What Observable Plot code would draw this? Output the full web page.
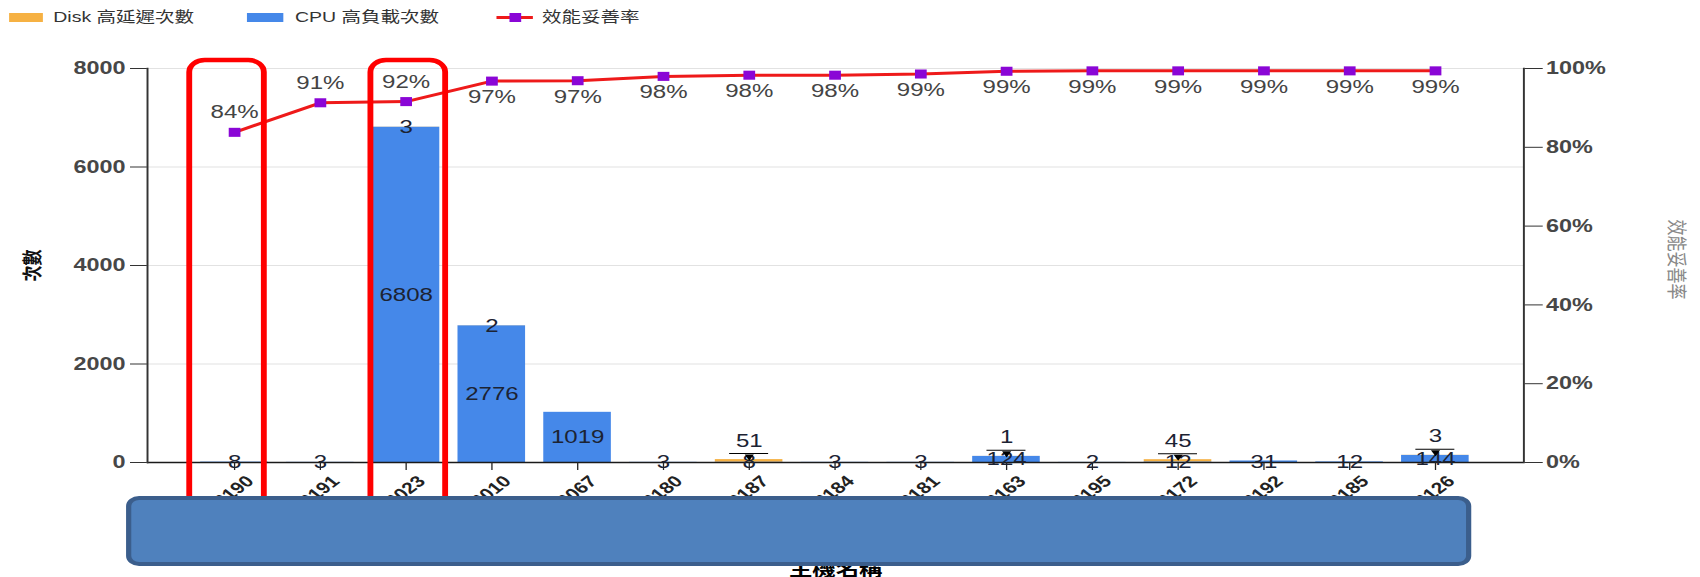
<!DOCTYPE html>
<html>
<head>
<meta charset="utf-8">
<script src="https://cdn.jsdelivr.net/npm/d3@7"></script>
<script src="https://cdn.jsdelivr.net/npm/@observablehq/plot@0.6"></script>
<style>
  html, body { margin: 0; padding: 0; background: #fff; }
  body { width: 1700px; height: 577px; overflow: hidden; }
  #wrap {
    position: relative; width: 1308px; height: 577px;
    transform: scaleX(1.29969); transform-origin: 0 0;
    font-family: "Liberation Sans", Arial, "Noto Sans CJK TC", sans-serif;
  }
  #legend { position: absolute; left: 0; top: 0; height: 32px; width: 100%; }
  .lg-sw { position: absolute; top: 13px; height: 9px; }
  .lg-tx { position: absolute; top: 8px; font-size: 15px; line-height: 18px; color: #333; white-space: nowrap; }
  .lg-line { position: absolute; top: 16px; height: 3px; }
  .lg-mark { position: absolute; top: 13px; width: 9px; height: 9px; }
  #chart { position: absolute; left: 0; top: 32px; }
  #cover {
    position: absolute; left: 97px; top: 496px; width: 1035px; height: 70px;
    box-sizing: border-box; background: #4f81bd; border: 4px solid #3b5e8c; border-radius: 10px;
  }
</style>
</head>
<body>
<div id="wrap">
  <div id="legend"></div>
  <div id="chart"></div>
  <div id="cover"></div>
</div>
<script>
// ---- data ----
const hosts = ["0190","0191","0023","0010","0067","0180","0187","0184","0181","0163","0195","0172","0192","0185","0126"];
const cpuCounts  = [8, 3, 6808, 2776, 1019, 3, 8, 3, 3, 124, 2, 12, 31, 12, 144];
const diskCounts = [0, 0, 3, 2, 0, 0, 51, 0, 0, 1, 0, 45, 0, 0, 3];
const rates = [83.8, 91.3, 91.6, 96.8, 96.9, 98.0, 98.3, 98.3, 98.6, 99.3, 99.4, 99.4, 99.4, 99.4, 99.4];
const countTicks = [0, 2000, 4000, 6000, 8000];
const rateTicks = [0, 20, 40, 60, 80, 100];
const seriesNames = ["Disk 高延遲次數", "CPU 高負載次數", "效能妥善率"];
const yTitle = "次數";
const y2Title = "效能妥善率";
const xTitle = "主機名稱";
const highlighted = ["0190", "0023"];

const colors = { disk: "#f6b143", cpu: "#4588e9", line: "#ee1a1a", marker: "#8a06d6" };
const FONT = '"Liberation Sans", Arial, "Noto Sans CJK TC", sans-serif';

// ---- legend ----
const legend = document.getElementById("legend");
legend.innerHTML = `
  <div class="lg-sw" style="left:7px;width:26px;background:${colors.disk}"></div>
  <div class="lg-tx" style="left:41px">${seriesNames[0]}</div>
  <div class="lg-sw" style="left:190px;width:28px;background:${colors.cpu}"></div>
  <div class="lg-tx" style="left:227px">${seriesNames[1]}</div>
  <div class="lg-line" style="left:382px;width:28px;background:${colors.line}"></div>
  <div class="lg-mark" style="left:391.5px;background:${colors.marker}"></div>
  <div class="lg-tx" style="left:417px">${seriesNames[2]}</div>
`;

// ---- derived tables ----
const ymax = countTicks[countTicks.length - 1];
const pct = ymax / 100;
const stacked = hosts.flatMap((h, i) => [
  { host: h, series: seriesNames[1], value: cpuCounts[i] },
  { host: h, series: seriesNames[0], value: diskCounts[i] }
]);
const rows = hosts.map((h, i) => ({
  host: h, cpu: cpuCounts[i], disk: diskCounts[i],
  total: cpuCounts[i] + diskCounts[i], rate: rates[i]
}));
const diskRows = rows.filter(d => d.disk > 0);
const diskBig = diskRows.filter(d => d.total >= 500);
const diskSmall = diskRows.filter(d => d.total < 500);
const rateAbove = rows.filter(d => d.rate < 95);
const rateBelow = rows.filter(d => d.rate >= 95);

const boxStyle = { fill: "none", stroke: "#ff0000", strokeWidth: 4.5, rx: 12, insetTop: -8, insetBottom: -100 };

const chart = Plot.plot({
  width: 1308, height: 545,
  marginLeft: 113, marginRight: 136, marginTop: 36, marginBottom: 115,
  style: { fontFamily: FONT, background: "transparent", overflow: "visible" },
  x: { type: "band", domain: hosts, paddingInner: 0.21, paddingOuter: 0.605, axis: null },
  y: { domain: [0, ymax], axis: null },
  color: { domain: [seriesNames[0], seriesNames[1]], range: [colors.disk, colors.cpu] },
  marks: [
    Plot.gridY(countTicks, { stroke: "#e2e2e2", strokeOpacity: 1, strokeWidth: 1 }),
    Plot.barY(stacked, { x: "host", y: "value", fill: "series" }),
    Plot.ruleY([0], { stroke: "#1a1a1a", strokeWidth: 1.5 }),
    Plot.frame({ anchor: "left", stroke: "#333", strokeWidth: 1.5 }),
    Plot.frame({ anchor: "right", stroke: "#333", strokeWidth: 1.5 }),
    Plot.axisY(countTicks, { anchor: "left", tickSize: 13, tickPadding: 4, fontSize: 18, fontWeight: "bold", fill: "#474747", stroke: "#333", tickFormat: d => String(d), label: null }),
    Plot.axisY(rateTicks.map(v => v * pct), { anchor: "right", tickSize: 14, tickPadding: 3, fontSize: 18, fontWeight: "bold", fill: "#474747", stroke: "#333", tickFormat: v => `${Math.round(v / pct)}%`, label: null }),
    Plot.axisX({ anchor: "bottom", tickSize: 8, tickPadding: 0, tickFormat: () => "", label: null, stroke: "#222" }),
    Plot.axisX({ anchor: "bottom", tickSize: 0, tickPadding: 16, dx: 12, tickRotate: -45, fontSize: 16, fontWeight: "bold", fill: "#222", label: null }),
    // CPU labels centered in segment
    Plot.text(rows, { x: "host", y: d => d.cpu / 2, text: d => String(d.cpu), fontSize: 18.5, fill: "#1c2333" }),
    // Disk labels
    Plot.text(diskBig, { x: "host", y: "total", text: d => String(d.disk), fontSize: 18.5, fill: "#1c2333" }),
    Plot.tickY(diskSmall, { x: "host", y: "total", dy: -6, inset: 11, stroke: "#000", strokeWidth: 1 }),
    Plot.dot(diskSmall, { x: "host", y: "total", dy: -3, symbol: "triangle", rotate: 180, r: 2.6, fill: "#000" }),
    Plot.text(diskSmall, { x: "host", y: "total", dy: -19, text: d => String(d.disk), fontSize: 18.5, fill: "#1c2333" }),
    // rate line
    Plot.line(rows, { x: "host", y: d => d.rate * pct, stroke: colors.line, strokeWidth: 3 }),
    Plot.dot(rows, { x: "host", y: d => d.rate * pct, symbol: "square", r: 5.1, fill: colors.marker }),
    Plot.text(rateAbove, { x: "host", y: d => d.rate * pct, dy: -20, text: d => `${Math.round(d.rate)}%`, fontSize: 18.5, fill: "#444" }),
    Plot.text(rateBelow, { x: "host", y: d => d.rate * pct, dy: 16, text: d => `${Math.round(d.rate)}%`, fontSize: 18.5, fill: "#444" }),
    // axis titles
    Plot.text([yTitle], { frameAnchor: "left", textAnchor: "middle", dx: -88, rotate: -90, fontSize: 16, fontWeight: "bold", fill: "#111" }),
    Plot.text([y2Title], { frameAnchor: "right", textAnchor: "middle", dx: 117, dy: -6, rotate: 90, fontSize: 16, fill: "#888" }),
    Plot.text([xTitle], { frameAnchor: "bottom", dy: 113, lineAnchor: "bottom", fontSize: 18, fontWeight: "bold", fill: "#000" }),
    // highlight boxes
    Plot.barY([{ host: highlighted[0] }], { x: "host", y1: 0, y2: ymax, insetLeft: -8.4, insetRight: 3, ...boxStyle }),
    Plot.barY([{ host: highlighted[1] }], { x: "host", y1: 0, y2: ymax, insetLeft: -1, insetRight: -4.5, ...boxStyle })
  ]
});
document.getElementById("chart").appendChild(chart);
</script>
</body>
</html>
